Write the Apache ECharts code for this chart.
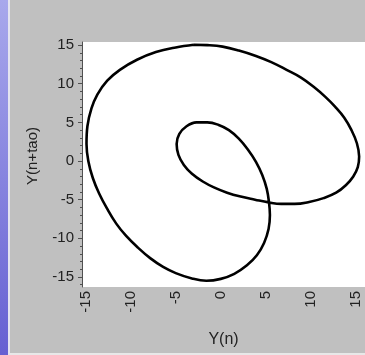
<!DOCTYPE html>
<html>
<head>
<meta charset="utf-8">
<style>
  html, body { margin: 0; padding: 0; background: #c0c0c0; }
  #chart { width: 365px; height: 355px; }
</style>
<script src="https://cdn.jsdelivr.net/npm/echarts@6/dist/echarts.min.js"></script>
</head>
<body>
<div id="chart"></div>
<script>
// Delay-embedding trajectory: Y(n) against Y(n+tao), traced as one closed loop
const yn = [
  -3.0, -1.5, 0.2, 2.0, 3.9, 5.6, 7.3, 8.9, 10.3, 11.6, 12.7, 13.7, 14.5, 15.1,
  15.35, 15.2, 14.7, 13.9, 12.8, 11.4, 9.8, 8.2, 6.7, 5.3, 3.8, 2.2, 0.7, -0.7,
  -2.0, -3.2, -4.1, -4.7, -4.9, -4.6, -3.8, -2.7, -1.5, -0.3, 0.9, 2.0, 3.0, 3.9,
  4.6, 5.1, 5.35, 5.45, 5.3, 4.8, 4.0, 2.9, 1.5, 0.0, -1.6, -3.2, -5.0, -6.4,
  -7.8, -9.2, -10.5, -11.6, -12.6, -13.5, -14.2, -14.7, -14.9, -14.8, -14.35, -13.7,
  -12.6, -11.2, -9.3, -7.2, -5.0, -3.0
];
const ynTao = [
  15.05, 15.0, 14.8, 14.3, 13.6, 12.8, 11.8, 10.8, 9.6, 8.3, 7.0, 5.6, 4.0, 2.3,
  0.6, -0.8, -2.0, -3.1, -4.1, -4.8, -5.3, -5.55, -5.55, -5.35, -5.0, -4.6, -4.1, -3.45,
  -2.65, -1.65, -0.5, 0.8, 2.2, 3.5, 4.5, 5.0, 5.0, 4.7, 4.0, 2.9, 1.5, -0.1,
  -1.8, -3.6, -5.35, -7.0, -8.8, -10.6, -12.2, -13.5, -14.6, -15.25, -15.5, -15.2, -14.5, -13.7,
  -12.6, -11.2, -9.7, -8.1, -6.2, -4.2, -2.2, 0.0, 2.2, 4.5, 6.8, 8.6,
  10.4, 11.8, 13.1, 14.1, 14.7, 15.05
];

// Tick positions
const majorTicks = [-15, -10, -5, 0, 5, 10, 15];
const minorTicks = [];
for (let v = -16; v <= 15; v++) minorTicks.push(v);

const xRange = [-15.4, 16];
const yRange = [-16.3, 15.4];

const points = yn.map((x, i) => [x, ynTao[i]]);
const font = '"Liberation Sans", Arial, sans-serif';

const chart = echarts.init(document.getElementById('chart'), null, { renderer: 'canvas' });
chart.setOption({
  backgroundColor: '#c0c0c0',
  animation: false,
  graphic: [
    {
      type: 'rect', left: 0, top: 0, z: 10,
      shape: { width: 8, height: 355 },
      style: {
        fill: new echarts.graphic.LinearGradient(0, 0, 0, 1, [
          { offset: 0, color: '#a8a8ec' },
          { offset: 1, color: '#6660d2' }
        ])
      }
    },
    { type: 'rect', left: 8, top: 0, z: 10, shape: { width: 2, height: 355 }, style: { fill: '#e4e4f0' } },
    { type: 'rect', left: 10, top: 353, z: 10, shape: { width: 355, height: 2 }, style: { fill: '#e8e8e8' } },
    {
      type: 'text', x: 33, y: 156, rotation: Math.PI / 2, z: 10,
      style: {
        text: 'Y(n+tao)', font: '15px ' + font, fill: '#222',
        align: 'center', verticalAlign: 'middle'
      }
    }
  ],
  grid: {
    left: 82, top: 42, right: 0, bottom: 68,
    show: true, backgroundColor: '#ffffff', borderWidth: 0
  },
  xAxis: {
    type: 'value', min: xRange[0], max: xRange[1],
    name: 'Y(n)', nameLocation: 'middle', nameGap: 45,
    nameTextStyle: { fontFamily: font, fontSize: 16, color: '#222' },
    axisLine: { show: false, onZero: false },
    axisTick: { show: false },
    splitLine: { show: false },
    axisLabel: {
      customValues: majorTicks, rotate: 90, margin: 4,
      fontFamily: font, fontSize: 15, color: '#222'
    }
  },
  yAxis: [
    {
      type: 'value', min: yRange[0], max: yRange[1],
      axisLine: { show: true, onZero: false, lineStyle: { color: '#505050', width: 1 } },
      axisTick: { show: true, customValues: minorTicks, length: 2, lineStyle: { color: '#505050' } },
      axisLabel: { show: false },
      splitLine: { show: false }
    },
    {
      type: 'value', min: yRange[0], max: yRange[1], position: 'left',
      axisLine: { show: false, onZero: false },
      axisTick: { show: true, customValues: majorTicks, length: 4, lineStyle: { color: '#505050' } },
      axisLabel: { customValues: majorTicks, margin: 8, fontFamily: font, fontSize: 15, color: '#222' },
      splitLine: { show: false }
    }
  ],
  series: [{
    type: 'line',
    data: points,
    xAxisIndex: 0, yAxisIndex: 0,
    smooth: 0.4,
    showSymbol: false,
    lineStyle: { color: '#000', width: 2.6 },
    clip: true
  }]
});
</script>
</body>
</html>
